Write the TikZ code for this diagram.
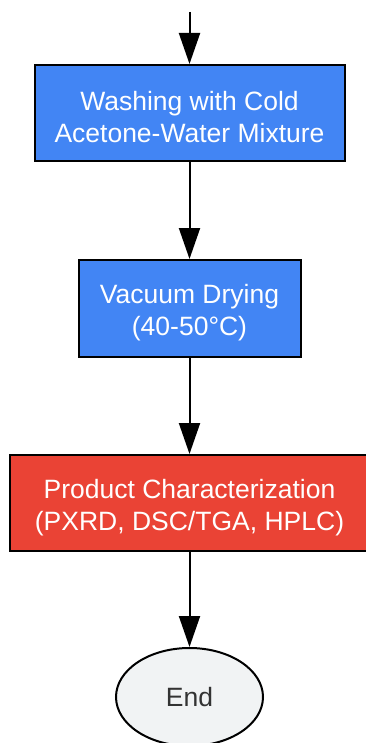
\documentclass[tikz,border=0pt]{standalone}
\usepackage{fontspec}
\setmainfont{Liberation Sans}
\usetikzlibrary{arrows.meta,shapes.geometric}
\definecolor{gblue}{HTML}{4285F4}
\definecolor{gred}{HTML}{EA4335}
\definecolor{ggray}{HTML}{F1F3F4}
\definecolor{gtext}{HTML}{333333}
\newcommand{\topstrut}{\rule{0pt}{27.5pt}}
\begin{document}
\begin{tikzpicture}[x=1pt,y=-1pt,
  procbox/.style={draw=black,line width=2pt,rectangle,inner sep=0pt,align=center,text=white,font=\fontsize{26.5}{32}\selectfont},
  endnode/.style={draw=black,line width=2pt,ellipse,inner sep=0pt,fill=ggray,text=gtext,font=\fontsize{26.5}{32}\selectfont},
  flow/.style={line width=2pt,-{Triangle[width=21pt,length=31pt]}}]
\useasboundingbox (0,0) rectangle (366,743);
\coordinate (start) at (189.5,12);
\node[procbox,fill=gblue,minimum width=310pt,minimum height=96pt] (wash) at (189.5,113) {\topstrut Washing with Cold\\Acetone-Water Mixture};
\node[procbox,fill=gblue,minimum width=222pt,minimum height=97pt] (dry) at (189.5,308.5) {\topstrut Vacuum Drying\\(40-50°C)};
\node[procbox,fill=gred,minimum width=360pt,minimum height=96pt] (char) at (189.5,503) {\topstrut Product Characterization\\(PXRD, DSC/TGA, HPLC)};
\node[endnode,minimum width=147pt,minimum height=98pt] (end) at (189.5,697) {End};
\draw[flow] (start) -- (wash.north);
\draw[flow] (wash.south) -- (dry.north);
\draw[flow] (dry.south) -- (char.north);
\draw[flow] (char.south) -- (end.north);
\end{tikzpicture}
\end{document}
